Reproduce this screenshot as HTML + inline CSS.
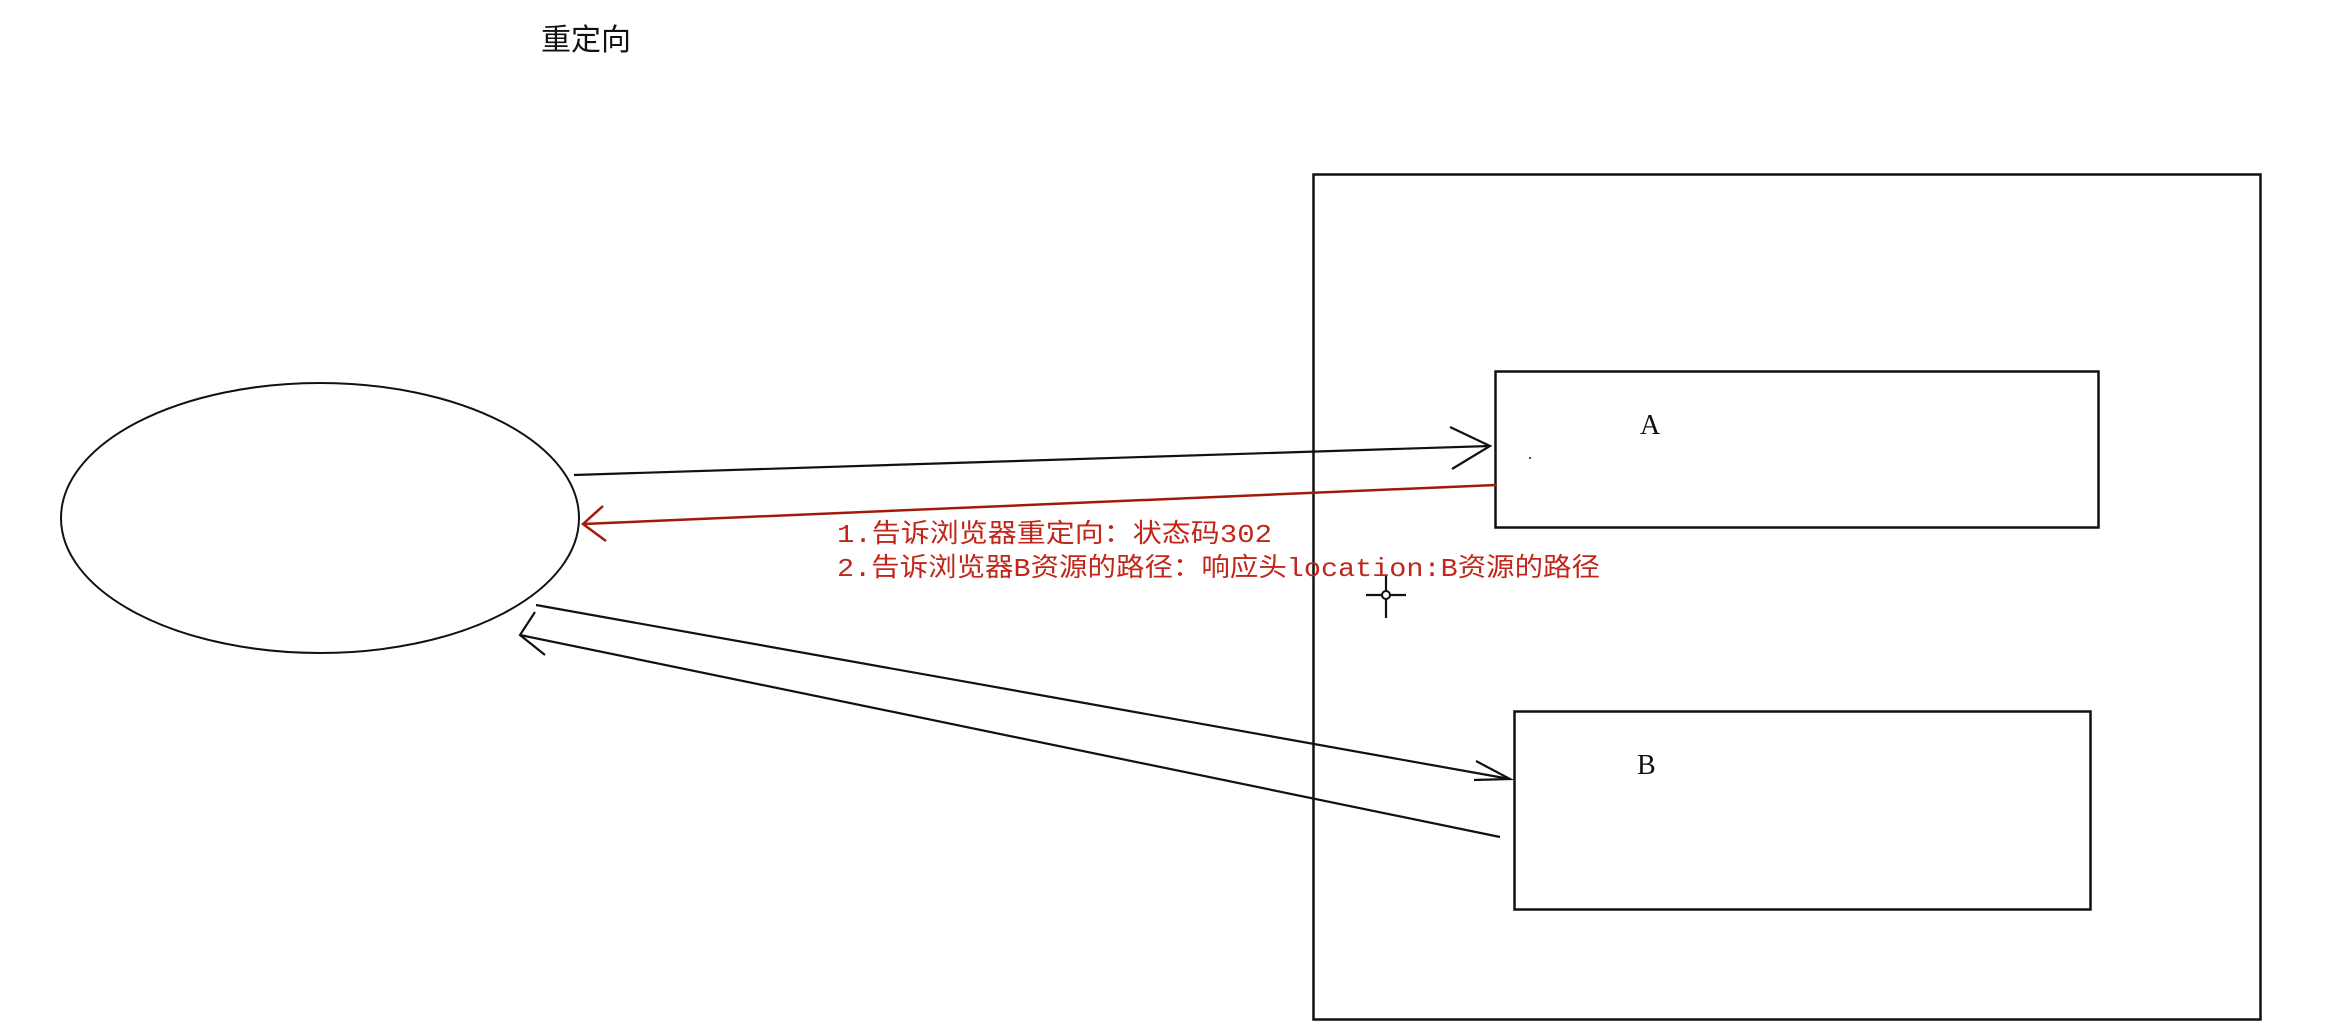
<!DOCTYPE html>
<html><head><meta charset="utf-8"><style>
html,body{margin:0;padding:0;background:#fff;width:2329px;height:1033px;overflow:hidden}
</style></head><body>
<svg width="2329" height="1033" viewBox="0 0 2329 1033" xmlns="http://www.w3.org/2000/svg">
<rect width="2329" height="1033" fill="#fff"/>
<text x="541" y="50" font-family="'Liberation Sans','Noto Sans CJK SC',sans-serif" font-size="30" fill="#111" textLength="90" lengthAdjust="spacingAndGlyphs">重定向</text>
<rect x="1313.5" y="174.5" width="947" height="845" fill="none" stroke="#111" stroke-width="2.5"/>
<rect x="1495.5" y="371.5" width="603" height="156" fill="none" stroke="#111" stroke-width="2.5"/>
<rect x="1514.5" y="711.5" width="576" height="198" fill="none" stroke="#111" stroke-width="2.5"/>
<ellipse cx="320" cy="518" rx="259" ry="135" fill="none" stroke="#111" stroke-width="2"/>
<text x="1640" y="434" font-family="'Liberation Serif',serif" font-size="28" fill="#111">A</text>
<text x="1637" y="774" font-family="'Liberation Serif',serif" font-size="28" fill="#111">B</text>
<circle cx="1530" cy="458" r="1" fill="#111"/>
<g stroke="#111" stroke-width="2.2" fill="none">
<line x1="574" y1="475" x2="1490" y2="446"/>
<polyline points="1450,427 1490,446 1452,469"/>
<line x1="536" y1="605" x2="1510" y2="779"/>
<polyline points="1476,761 1510,779 1474,780"/>
<line x1="1500" y1="837" x2="520" y2="635"/>
<polyline points="535,612 520,635 545,655"/>
<line x1="1386" y1="575" x2="1386" y2="618"/>
<line x1="1366" y1="595" x2="1406" y2="595"/>
</g>
<circle cx="1386" cy="595" r="4" fill="#fff" stroke="#111" stroke-width="2"/>
<g stroke="#a01a0a" stroke-width="2.5" fill="none">
<line x1="1496" y1="485" x2="583" y2="524"/>
<polyline points="603,506 583,524 606,541"/>
</g>
<g font-family="'Liberation Mono','Noto Sans CJK SC',monospace" font-size="26" fill="#c0271a">
<text x="837" y="542" textLength="435" lengthAdjust="spacingAndGlyphs">1.告诉浏览器重定向：状态码302</text>
<text x="837" y="576" textLength="763" lengthAdjust="spacingAndGlyphs">2.告诉浏览器B资源的路径：响应头location:B资源的路径</text>
</g>
</svg>
</body></html>
